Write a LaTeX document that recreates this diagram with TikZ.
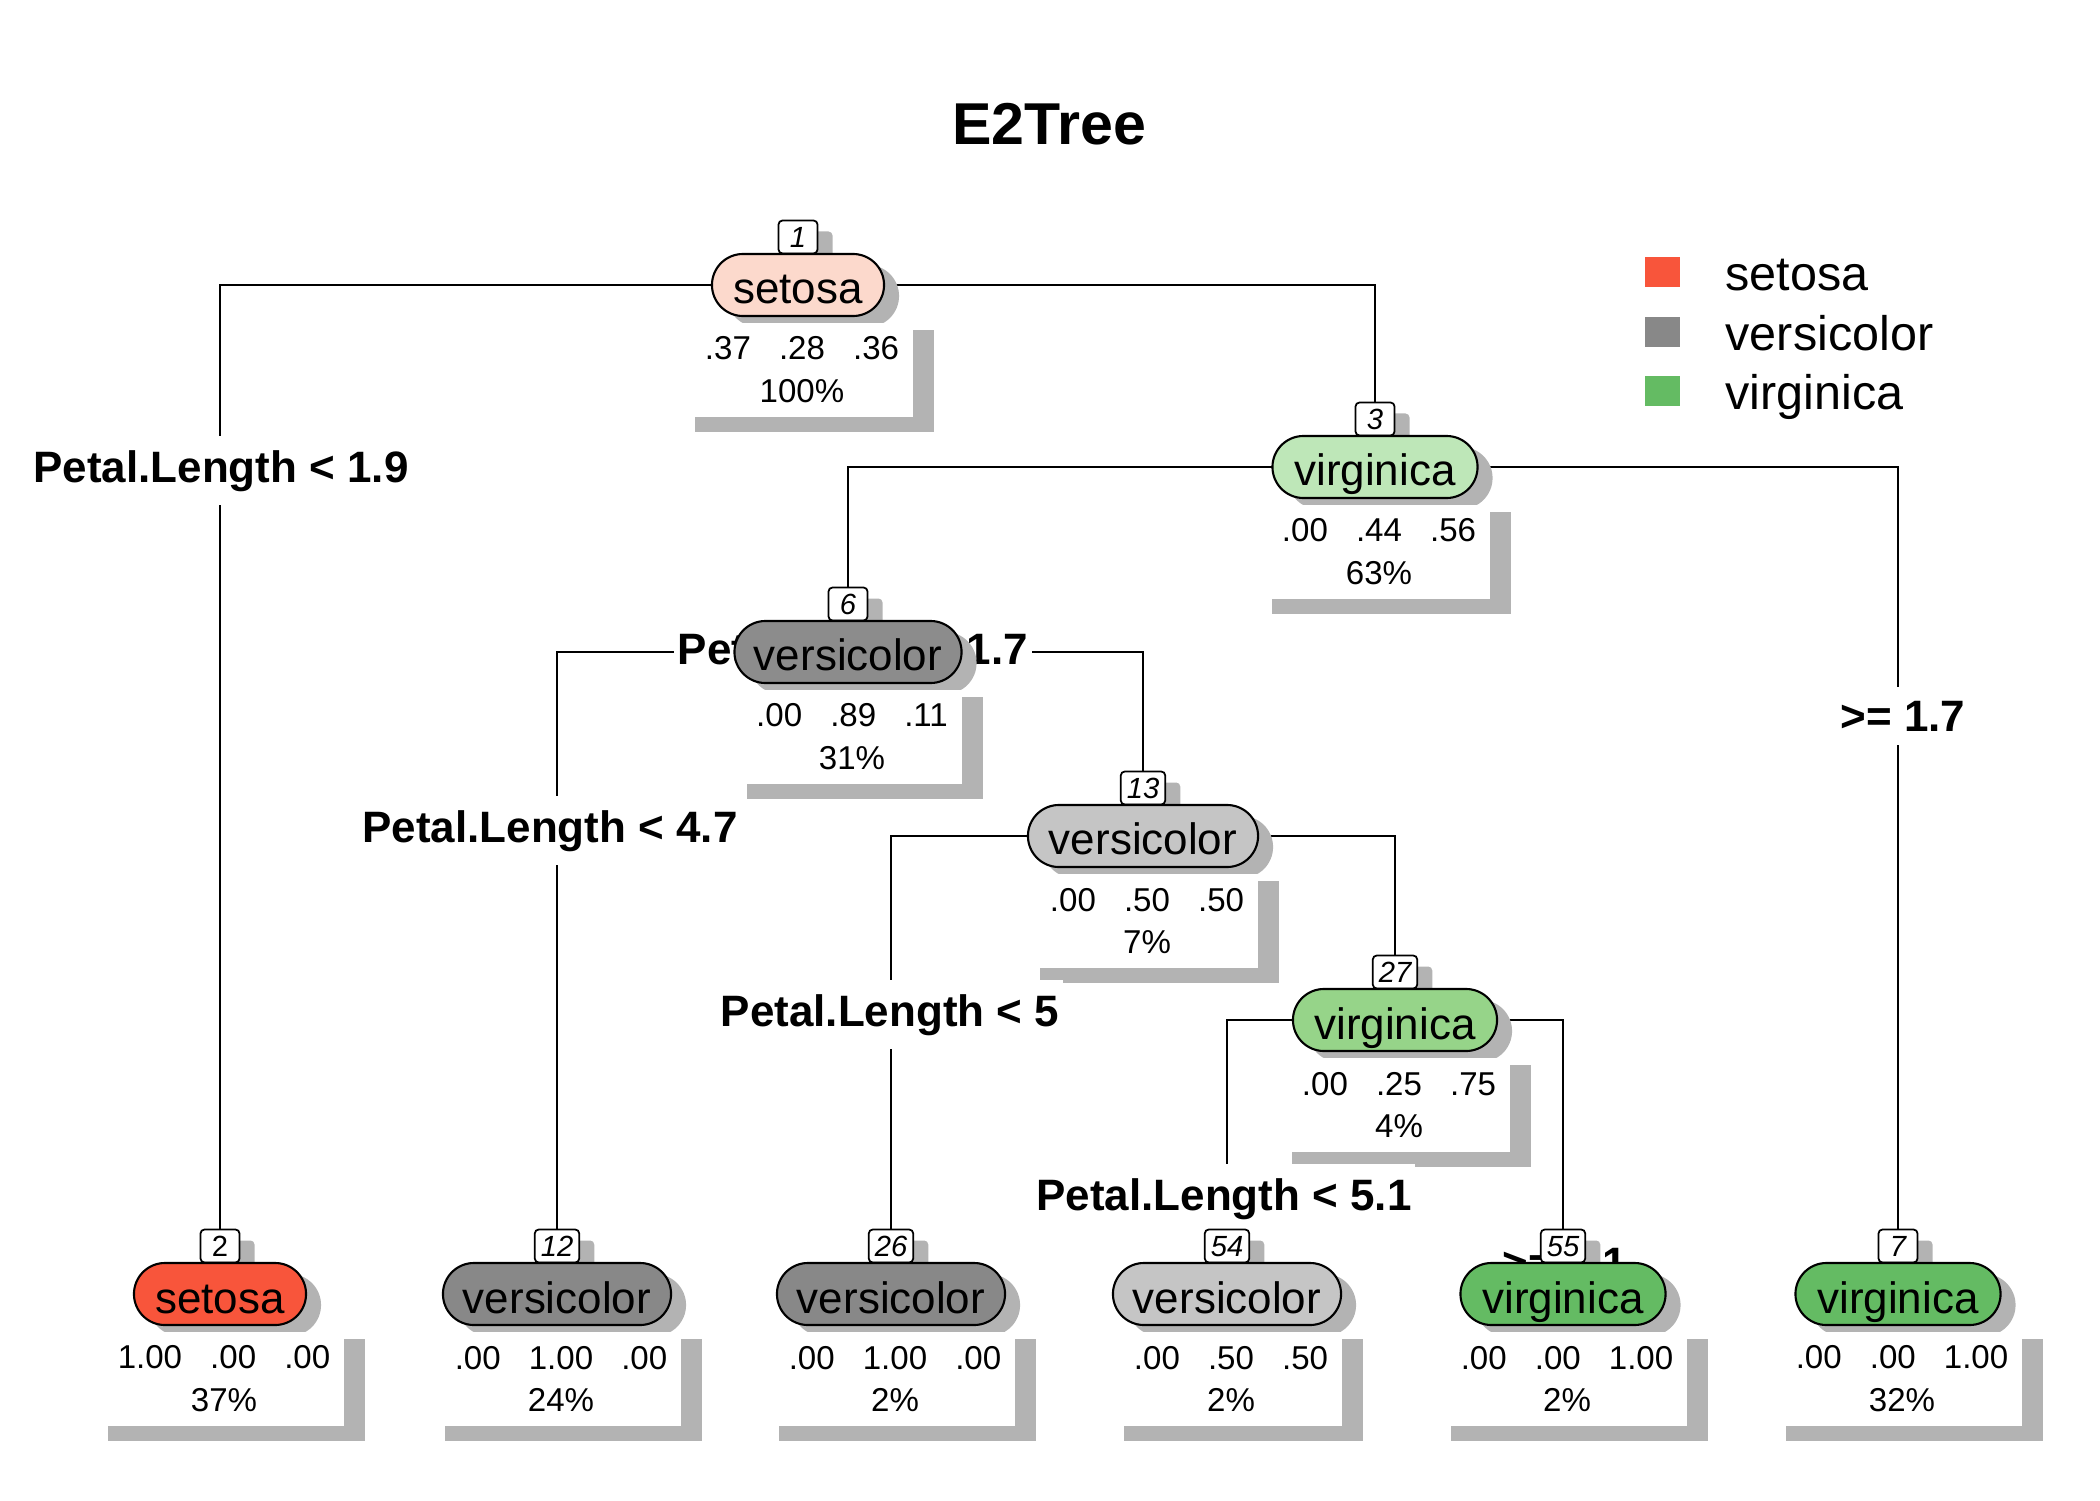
\documentclass[tikz,border=0pt]{standalone}
\usepackage{fontspec}
\setmainfont{Liberation Sans}
\usetikzlibrary{shadows}
\pgfdeclarelayer{bg}
\pgfdeclarelayer{mid}
\pgfsetlayers{bg,mid,main}

\definecolor{setosa}{RGB}{248,85,59}
\definecolor{setosalight}{RGB}{252,217,204}
\definecolor{versi}{RGB}{136,136,136}
\definecolor{versidark}{RGB}{140,140,140}
\definecolor{versilight}{RGB}{197,197,197}
\definecolor{virg}{RGB}{100,187,99}
\definecolor{virgmid}{RGB}{150,212,137}
\definecolor{virglight}{RGB}{190,231,184}
\definecolor{shadowgray}{RGB}{179,179,179}

\tikzset{
  shadowed/.style={drop shadow={shadow xshift=0.15cm, shadow yshift=-0.11cm, fill=shadowgray, opacity=1}},
  tree/.style={draw=black, line width=0.6pt, rounded corners=0.31cm, minimum height=0.62cm,
    inner sep=0pt, text height=10.8pt, text depth=0pt,
    font=\fontsize{12.5}{14}\selectfont, shadowed},
  numbox/.style={draw=black, line width=0.5pt, fill=white, rounded corners=0.04cm, minimum height=0.33cm,
    minimum width=0.39cm, inner xsep=0.06cm, inner ysep=0pt, text height=6pt, text depth=0pt,
    font=\fontsize{8.3}{9}\selectfont\itshape, shadowed},
  infobox/.style={fill=white, minimum height=0.93cm, inner xsep=0.14cm, inner ysep=0pt, align=center,
    font=\fontsize{9.4}{12.2}\selectfont},
  infoshadow/.style={fill=shadowgray},
  splitlab/.style={fill=white, inner xsep=1pt, inner ysep=4pt, anchor=base,
    font=\fontsize{12.5}{14}\bfseries\selectfont},
  conn/.style={draw=black, line width=0.6pt},
  legsq/.style={fill=#1, minimum width=0.35cm, minimum height=0.29cm, inner sep=0pt},
  legtext/.style={anchor=base west, inner sep=0pt, font=\fontsize{13.8}{16}\selectfont}
}

\newcommand\gp{\hspace{0.85em}}
% #1 name #2 x #3 y #4 width #5 fill #6 class #7 number #8 line1 #9 line2
\newcommand\treenode[9]{%
  \node[numbox] (b#1) at (#2,#3-48) {#7};
  \node[tree, minimum width=#4, fill=#5] (n#1) at (#2,#3) {#6};
  \node[infobox] (i#1) at (#2+4,#3+85) {#8\\#9};
  \begin{pgfonlayer}{mid}
  \fill[infoshadow] ([shift={(0.05cm,-0.07cm)}]i#1.north west) rectangle ([shift={(0.2cm,-0.15cm)}]i#1.south east);
  \end{pgfonlayer}
}

\begin{document}
\begin{tikzpicture}[x=0.01cm, y=-0.01cm]
\useasboundingbox (0,0) rectangle (2100,1500);

% title
\node[font=\fontsize{16.8}{20}\bfseries\selectfont] (title) at (1049,124) {E2Tree};

% internal nodes
\treenode{1}{798}{285}{1.72cm}{setosalight}{setosa}{1}{.37\gp.28\gp.36}{100\%}
\treenode{3}{1375}{467}{2.05cm}{virglight}{virginica}{3}{.00\gp.44\gp.56}{63\%}
\treenode{6}{848}{652}{2.27cm}{versidark}{versicolor}{6}{.00\gp.89\gp.11}{31\%}
\treenode{13}{1143}{836}{2.30cm}{versilight}{versicolor}{13}{.00\gp.50\gp.50}{7\%}
\treenode{27}{1395}{1020}{2.04cm}{virgmid}{virginica}{27}{.00\gp.25\gp.75}{4\%}
% leaves
\treenode{2}{220}{1294}{1.72cm}{setosa}{setosa}{\upshape 2}{1.00\gp.00\gp.00}{37\%}
\treenode{12}{557}{1294}{2.28cm}{versi}{versicolor}{12}{.00\gp1.00\gp.00}{24\%}
\treenode{26}{891}{1294}{2.28cm}{versi}{versicolor}{26}{.00\gp1.00\gp.00}{2\%}
\treenode{54}{1227}{1294}{2.28cm}{versilight}{versicolor}{54}{.00\gp.50\gp.50}{2\%}
\treenode{55}{1563}{1294}{2.05cm}{virg}{virginica}{55}{.00\gp.00\gp1.00}{2\%}
\treenode{7}{1898}{1294}{2.05cm}{virg}{virginica}{7}{.00\gp.00\gp1.00}{32\%}

% connectors
\begin{pgfonlayer}{bg}
\draw[conn] (n1.center) -| (b2.north);
\draw[conn] (n1.center) -| (b3.north);
\draw[conn] (n3.center) -| (b6.north);
\draw[conn] (n3.center) -| (b7.north);
\draw[conn] (n6.center) -| (b12.north);
\draw[conn] (n6.center) -| (b13.north);
\draw[conn] (n13.center) -| (b26.north);
\draw[conn] (n13.center) -| (b27.north);
\draw[conn] (n27.center) -| (b54.north);
\draw[conn] (n27.center) -| (b55.north);
\end{pgfonlayer}

% split labels
\begin{pgfonlayer}{mid}
\node[splitlab] (s1) at (221,482) {Petal.Length < 1.9};
\node[splitlab] (s3) at (853,664) {Petal.Width < 1.7};
\node[splitlab] (s3r) at (1903,731) {>= 1.7};
\node[splitlab] (s6) at (550,842) {Petal.Length < 4.7};
\node[splitlab] (s13) at (890,1026) {Petal.Length < 5};
\node[splitlab] (s27) at (1224,1210) {Petal.Length < 5.1};
\node[splitlab] (s27r) at (1565,1278) {>= 5.1};
\end{pgfonlayer}

% legend
\node[legsq=setosa] (ls1) at (1662,272) {};
\node[legsq=versi] (ls2) at (1662,332) {};
\node[legsq=virg] (ls3) at (1662,391) {};
\node[legtext] (lt1) at (1725,290) {setosa};
\node[legtext] (lt2) at (1725,350) {versicolor};
\node[legtext] (lt3) at (1725,409) {virginica};
\end{tikzpicture}
\end{document}
